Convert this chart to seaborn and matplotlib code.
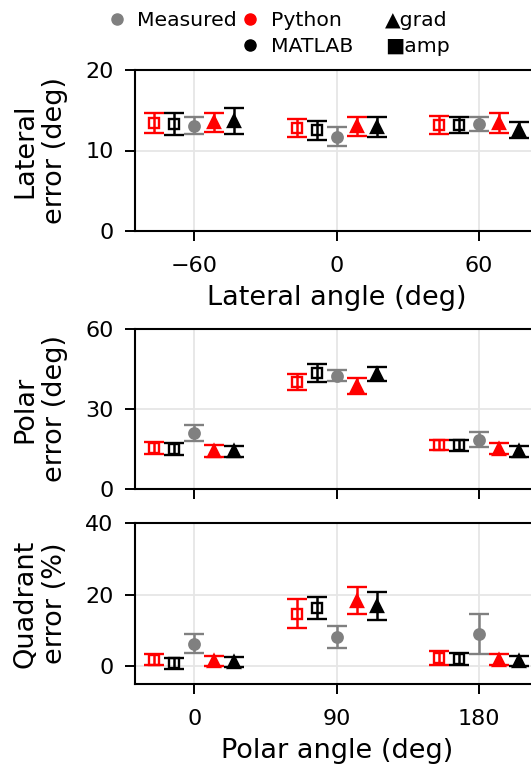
#! /usr/bin/env python3
'''
Localisation errors (lateral, polar, quadrant) of measured vs. modelled data
'''
import matplotlib
matplotlib.use('Agg')
import matplotlib.pyplot as plt
from matplotlib.lines import Line2D
import seaborn as sns

# data: mean and error half-width
lat_angles = [-60, 0, 60]
lat_meas = [13.1, 11.7, 13.3]; lat_meas_err = [1.0, 1.2, 0.9]
lat_py_amp = [13.4, 12.8, 13.2]; lat_py_amp_err = [1.2, 1.1, 1.1]
lat_ml_amp = [13.3, 12.5, 13.2]; lat_ml_amp_err = [1.4, 1.2, 1.0]
lat_py_grad = [13.5, 13.0, 13.4]; lat_py_grad_err = [1.2, 1.2, 1.2]
lat_ml_grad = [13.7, 12.9, 12.6]; lat_ml_grad_err = [1.6, 1.2, 1.0]

pol_angles = [0, 90, 180]
pol_meas = [21.1, 42.5, 18.5]; pol_meas_err = [3.0, 2.0, 2.8]
pol_py_amp = [15.4, 40.0, 16.6]; pol_py_amp_err = [2.1, 3.0, 1.9]
pol_ml_amp = [15.0, 43.5, 16.4]; pol_ml_amp_err = [2.1, 3.3, 2.1]
pol_py_grad = [14.3, 38.5, 15.1]; pol_py_grad_err = [2.2, 3.0, 2.0]
pol_ml_grad = [14.2, 43.1, 14.2]; pol_ml_grad_err = [2.1, 2.6, 2.1]

quad_meas = [6.3, 8.1, 8.9]; quad_meas_err = [2.6, 3.0, 5.6]
quad_py_amp = [1.8, 14.7, 2.3]; quad_py_amp_err = [1.5, 4.0, 2.0]
quad_ml_amp = [0.8, 16.2, 2.0]; quad_ml_amp_err = [1.5, 3.1, 1.7]
quad_py_grad = [1.5, 18.3, 1.8]; quad_py_grad_err = [1.4, 3.8, 1.5]
quad_ml_grad = [1.2, 16.8, 1.5]; quad_ml_grad_err = [1.4, 4.0, 1.4]

C_MEAS = '#808080'; C_PY = '#ff0000'; C_ML = '#000000'

sns.set_style("ticks", {"axes.grid": True, "grid.color": "#e6e6e6", "axes.edgecolor": "black",
                        "text.color": "black", "axes.labelcolor": "black",
                        "xtick.color": "black", "ytick.color": "black"})
plt.rcParams['font.family'] = ['DejaVu Sans']
plt.rcParams.update({"xtick.labelsize": 16, "ytick.labelsize": 16, "axes.labelsize": 19.5,
                     "axes.linewidth": 1.5, "xtick.major.width": 1.4, "ytick.major.width": 1.4,
                     "xtick.major.size": 7.5, "ytick.major.size": 7.5,
                     "xtick.major.pad": 10.5, "ytick.major.pad": 8, "grid.linewidth": 1.3})


def draw_panel(ax, angles, step, series):
    # series: list of (values, errors, offset index, color, marker, hollow)
    for vals, errs, k, color, marker, hollow in series:
        xs = [a + k * step for a in angles]
        ax.errorbar(xs, vals, yerr=errs, fmt=marker, color=color, ecolor=color,
                    markersize={'o': 7.5, 's': 6.5, '^': 8}[marker], markeredgewidth=1.7,
                    markerfacecolor='none' if hollow else color,
                    elinewidth=1.8, capsize=7, capthick=2.6)


def panel_series(meas, meas_e, py_amp, py_amp_e, ml_amp, ml_amp_e, py_grad, py_grad_e, ml_grad, ml_grad_e):
    return [(py_amp, py_amp_e, -2, C_PY, 's', True),
            (ml_amp, ml_amp_e, -1, C_ML, 's', True),
            (meas, meas_e, 0, C_MEAS, 'o', False),
            (py_grad, py_grad_e, 1, C_PY, '^', False),
            (ml_grad, ml_grad_e, 2, C_ML, '^', False)]


fig = plt.figure(figsize=(5.31, 7.67), dpi=100)
W, H = 531., 767.
left = 135 / W; width = 403.5 / W
ax1 = fig.add_axes([left, (H - 231) / H, width, 161 / H])
ax2 = fig.add_axes([left, (H - 489) / H, width, 160 / H])
ax3 = fig.add_axes([left, (H - 684) / H, width, 161 / H])

draw_panel(ax1, lat_angles, 8.4, panel_series(lat_meas, lat_meas_err, lat_py_amp, lat_py_amp_err,
                                              lat_ml_amp, lat_ml_amp_err, lat_py_grad, lat_py_grad_err,
                                              lat_ml_grad, lat_ml_grad_err))
draw_panel(ax2, pol_angles, 12.6, panel_series(pol_meas, pol_meas_err, pol_py_amp, pol_py_amp_err,
                                               pol_ml_amp, pol_ml_amp_err, pol_py_grad, pol_py_grad_err,
                                               pol_ml_grad, pol_ml_grad_err))
draw_panel(ax3, pol_angles, 12.6, panel_series(quad_meas, quad_meas_err, quad_py_amp, quad_py_amp_err,
                                               quad_ml_amp, quad_ml_amp_err, quad_py_grad, quad_py_grad_err,
                                               quad_ml_grad, quad_ml_grad_err))

ax1.set_xlim(-85, 85); ax1.set_xticks(lat_angles); ax1.set_xticklabels(['\u221260', '0', '60'])
ax1.set_ylim(0, 20); ax1.set_yticks([0, 10, 20])
ax1.set_xlabel("Lateral angle (deg)", labelpad=6.5); ax1.set_ylabel("Lateral\nerror (deg)", labelpad=12)

ax2.set_xlim(-37.5, 217.5); ax2.set_xticks(pol_angles); ax2.tick_params(labelbottom=False)
ax2.set_ylim(0, 60); ax2.set_yticks([0, 30, 60])
ax2.set_ylabel("Polar\nerror (deg)", labelpad=12)

ax3.set_xlim(-37.5, 217.5); ax3.set_xticks(pol_angles)
ax3.set_ylim(-5, 40); ax3.set_yticks([0, 20, 40])
ax3.set_xlabel("Polar angle (deg)", labelpad=6.5); ax3.set_ylabel("Quadrant\nerror (%)", labelpad=12)

for ax in (ax1, ax2, ax3):
    ax.set_axisbelow(True)
    for s in ax.spines.values():
        s.set_color('black')

# legend: colours (two columns) and marker shapes as glyphs (separate column)
blank = Line2D([], [], linestyle='none')
col_handles = [Line2D([], [], linestyle='none', marker='o', color=C_MEAS, markersize=8),
               blank,
               Line2D([], [], linestyle='none', marker='o', color=C_PY, markersize=8),
               Line2D([], [], linestyle='none', marker='o', color=C_ML, markersize=8)]
col_labels = ['Measured', '', 'Python', 'MATLAB']
leg_kw = dict(frameon=False, fontsize=14.7, labelspacing=0.34, borderaxespad=0, loc='upper left')
fig.legend(col_handles, col_labels, ncol=2, bbox_to_anchor=(98.6 / W, 0.9957),
           handlelength=1, handletextpad=0.5, columnspacing=0.15, **leg_kw)
fig.legend([blank, blank], ['\u25b2grad', '\u25a0amp'], ncol=1, bbox_to_anchor=(377 / W, 0.9957),
           handlelength=0, handletextpad=0, **leg_kw)

fig.savefig('out.png', dpi=100)
